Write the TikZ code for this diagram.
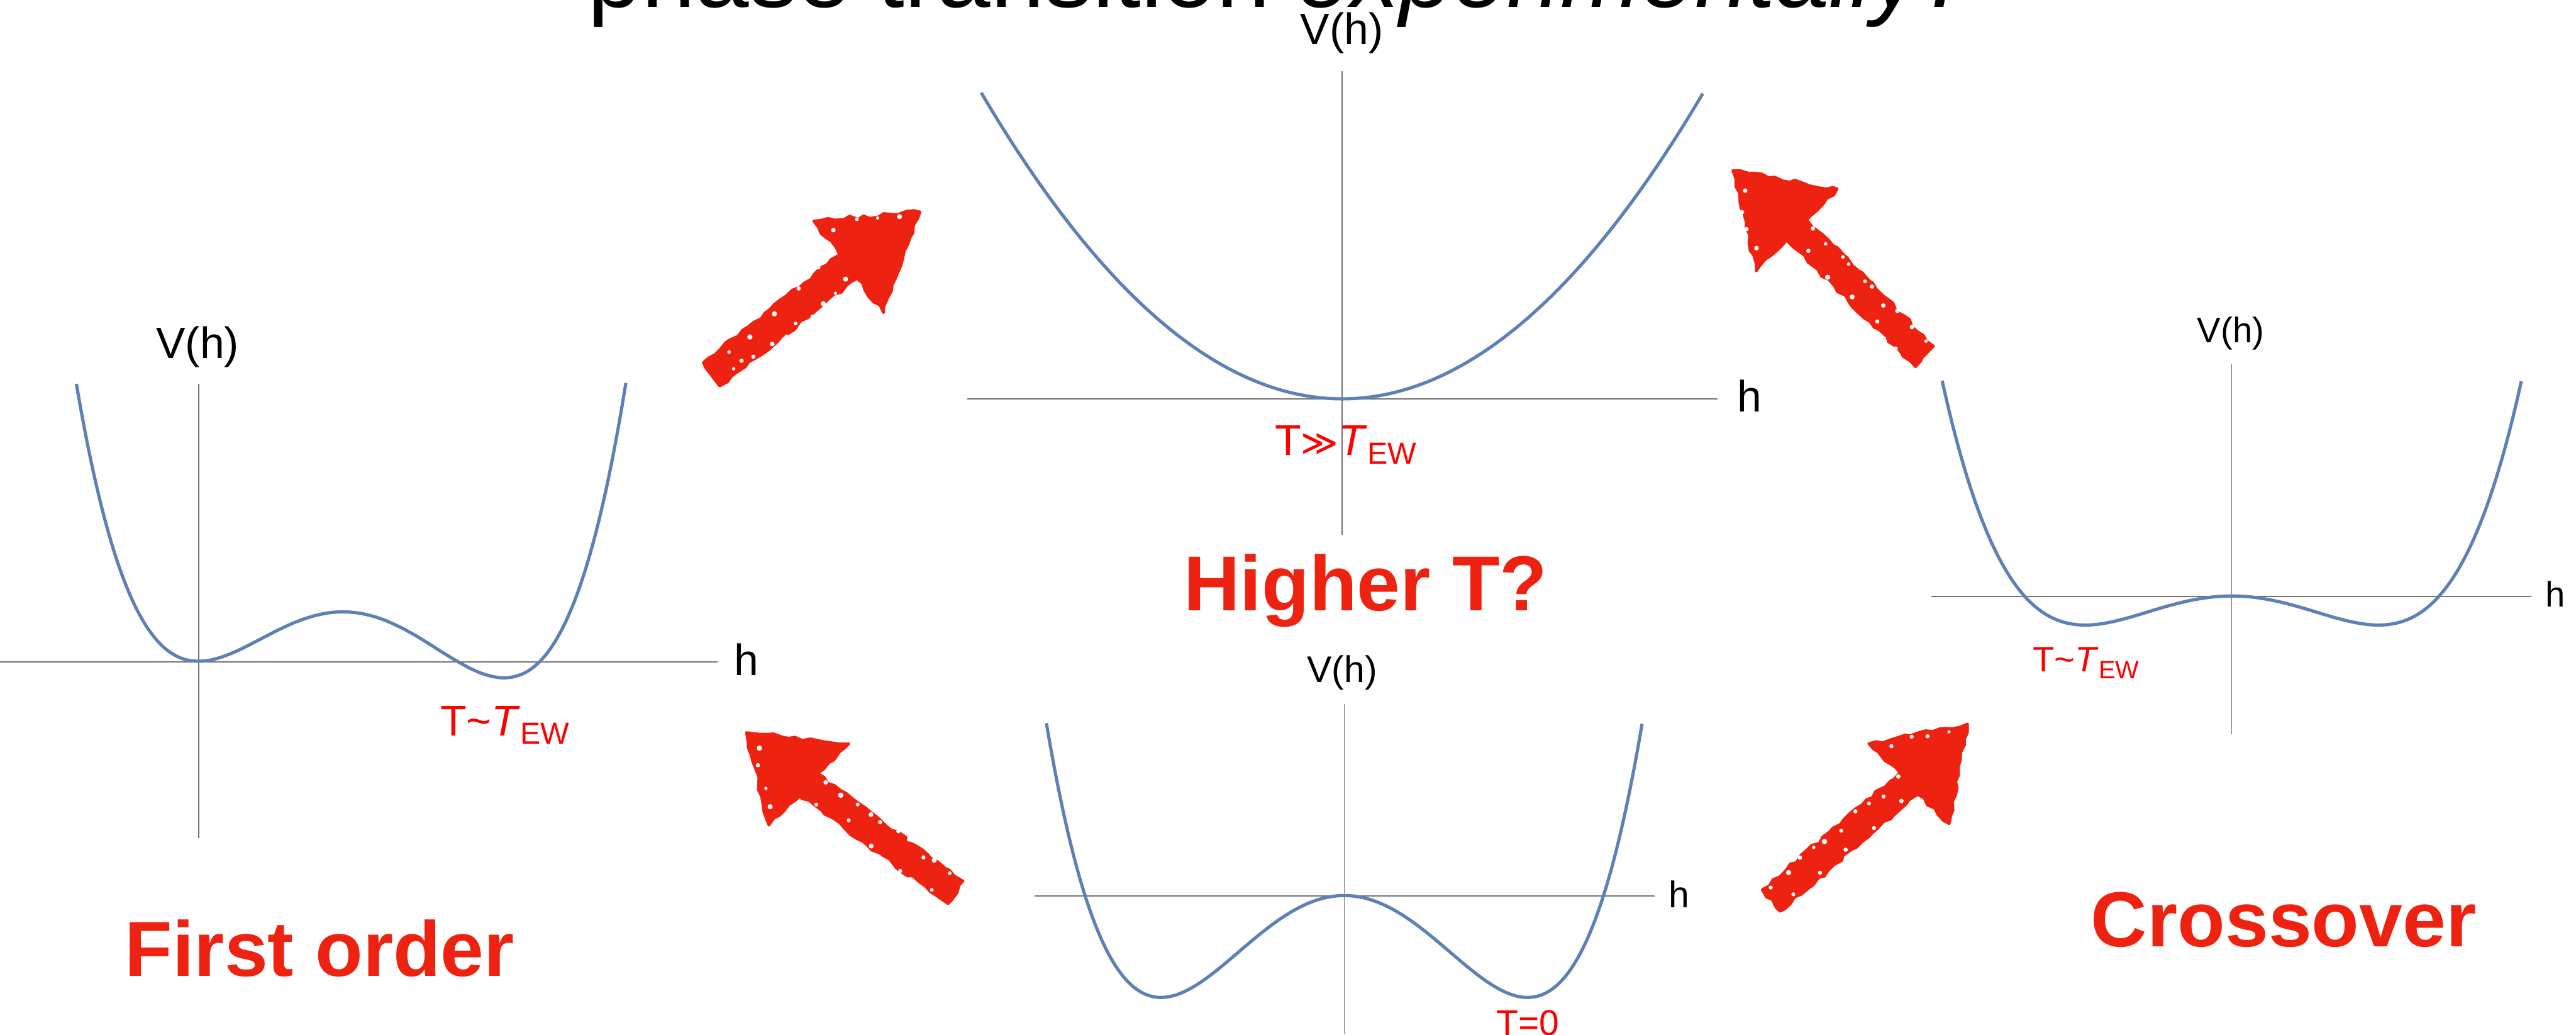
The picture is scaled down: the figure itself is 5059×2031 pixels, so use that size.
\documentclass[tikz,border=0pt]{standalone}
\usepackage{fontspec}
\setmainfont{Liberation Sans}
\newfontfamily\djv{DejaVu Sans}
\usetikzlibrary{decorations.pathmorphing}
\definecolor{curveblue}{RGB}{94,129,181}
\definecolor{axisgray}{RGB}{115,115,115}
\definecolor{bigred}{RGB}{238,34,17}
\definecolor{lblred}{RGB}{255,0,0}
\newcommand{\fs}[1]{\fontsize{#1}{#1}\selectfont}
\newcommand{\tew}[2]{\textit{T}\raisebox{-0.2em}{\fs{#2}EW}}
% white chalk speckles scattered along a segment: x1 y1 x2 y2 count
\newcommand{\speckles}[5]{%
  \foreach \k in {1,...,#5}{%
    \pgfmathsetmacro\sst{(\k-0.5)/#5}%
    \pgfmathsetmacro\ssx{#1+(#3-#1)*\sst+9*rand}%
    \pgfmathsetmacro\ssy{#2+(#4-#2)*\sst+9*rand}%
    \pgfmathsetmacro\ssr{0.9+0.6*rnd}%
    \fill[white] (\ssx,\ssy) circle (\ssr pt);
  }}
\tikzset{
  axisline/.style={draw=axisgray, line width=0.55pt},
  curveline/.style={draw=curveblue, line width=1.8pt, line join=round},
  axlbl/.style={inner sep=0pt, anchor=base, text=black},
  tlbl/.style={inner sep=0pt, anchor=base west, text=lblred},
  biglbl/.style={inner sep=0pt, anchor=base, text=bigred, font=\fs{43.5}\bfseries},
  roughred/.style={fill=bigred, draw=bigred, line width=1.5pt, line join=round,
    decorate, decoration={random steps, segment length=4pt, amplitude=1.1pt}}
}
\begin{document}
\begin{tikzpicture}[x=0.01cm, y=-0.01cm]
\pgfmathsetseed{7}
\useasboundingbox (0,0) rectangle (5059,2031);
\fill[white] (0,0) rectangle (5059,2031);
\begin{scope}
\clip (0,0) rectangle (5059,2031);
% title (cut off at the top)
\node[inner sep=0pt, anchor=base, font=\fs{54}] (title) at (2516,14) {phase transition \textit{experimentally?}};

% ---------- graph 1 : first order ----------
\draw[axisline] (390,754) -- (390,1645);
\draw[axisline] (0,1299) -- (1409,1299);
\draw[curveline] plot[domain=-0.40:1.40, samples=140, smooth]
  ({390+600*\x}, {1298 - 7200*(0.25*\x*\x*\x*\x - 0.491*\x*\x*\x + 0.2365*\x*\x)});
\node[axlbl, font=\fs{24.5}] (v1) at (388,704) {V(h)};
\node[axlbl, font=\fs{24.5}] (h1) at (1466,1326) {h};
\node[tlbl, font=\fs{24}] (t1) at (864,1444) {T\textasciitilde\tew{24}{17}};

% ---------- graph 2 : higher T ----------
\draw[axisline] (2636,140) -- (2636,1050);
\draw[axisline] (1899,783) -- (3373,783);
\draw[curveline] plot[domain=-1:1, samples=100, smooth]
  ({2636+709*\x}, {783 - 601*\x*\x});
\node[axlbl, font=\fs{24.5}] (v2) at (2635,87) {V(h)};
\node[axlbl, font=\fs{24.5}] (h2) at (3436,808) {h};
\node[tlbl, font=\fs{24}] (t2) at (2503,894) {T{\djv\fs{20}≫}\tew{24}{17}};

% ---------- graph 3 : T=0 ----------
\draw[axisline] (2640,1382) -- (2640,2031);
\draw[axisline] (2032,1759) -- (3249,1759);
\draw[curveline] plot[domain=-1.625:1.625, samples=140, smooth]
  ({2640+360*\x}, {1758 - 200*(\x*\x*\x*\x - 2*\x*\x)});
\node[axlbl, font=\fs{20.7}] (v3) at (2636,1340) {V(h)};
\node[axlbl, font=\fs{20.7}] (h3) at (3298,1782) {h};
\node[tlbl, font=\fs{20}] (t3) at (2938,2032) {T=0};

% ---------- graph 4 : crossover ----------
\draw[axisline] (4383,714) -- (4383,1441);
\draw[axisline] (3793,1171) -- (4971,1171);
\draw[curveline] plot[domain=-1.975:1.975, samples=140, smooth]
  ({4383+288*\x}, {1170 - 57*(\x*\x*\x*\x - 2*\x*\x)});
\node[axlbl, font=\fs{19.8}] (v4) at (4381,672) {V(h)};
\node[axlbl, font=\fs{19.8}] (h4) at (5018,1191) {h};
\node[tlbl, font=\fs{19.7}] (t4) at (3992,1318) {T\textasciitilde\tew{19.7}{14}};

% ---------- big labels ----------
\node[biglbl] (higher) at (2682,1199) {Higher T?};
\node[biglbl] (first) at (628,1916) {First order};
\node[biglbl] (cross) at (4485,1858) {Crossover};

% ---------- rough red arrows ----------
\path[roughred] (1381,712) -- (1649,500) -- (1598,434) -- (1807,416) -- (1735,614) -- (1683,547) -- (1413,758) -- cycle;
\speckles{1425}{742}{1675}{545}{10}
\speckles{1400}{718}{1640}{510}{5}
\speckles{1615}{446}{1790}{428}{4}

\path[roughred] (3403,335) -- (3608,371) -- (3548,431) -- (3798,680) -- (3762,720) -- (3508,471) -- (3449,532) -- cycle;
\speckles{3555}{442}{3788}{674}{10}
\speckles{3520}{472}{3755}{708}{5}
\speckles{3418}{352}{3445}{515}{4}

\path[roughred] (1466,1438) -- (1667,1460) -- (1605,1518) -- (1892,1730) -- (1862,1774) -- (1571,1562) -- (1510,1620) -- cycle;
\speckles{1612}{1526}{1878}{1726}{10}
\speckles{1578}{1556}{1855}{1764}{5}
\speckles{1480}{1452}{1508}{1605}{4}

\path[roughred] (3864,1421) -- (3670,1460) -- (3731,1517) -- (3460,1747) -- (3496,1789) -- (3767,1559) -- (3828,1617) -- cycle;
\speckles{3738}{1522}{3472}{1748}{10}
\speckles{3763}{1553}{3498}{1779}{5}
\speckles{3688}{1465}{3850}{1432}{4}
\end{scope}
\end{tikzpicture}
\end{document}
